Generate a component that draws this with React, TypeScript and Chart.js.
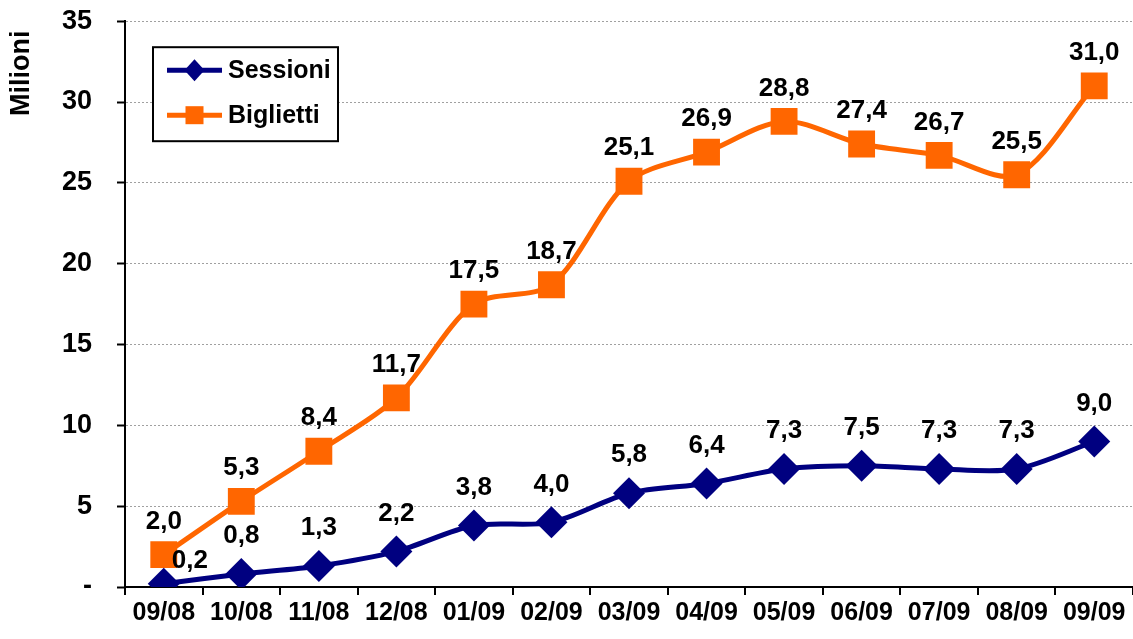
import React, { useEffect, useRef } from "react";
import { Chart, registerables } from "chart.js";

Chart.register(...registerables);

const categories = ["09/08", "10/08", "11/08", "12/08", "01/09", "02/09", "03/09", "04/09", "05/09", "06/09", "07/09", "08/09", "09/09"];
const sessioni = [0.2, 0.8, 1.3, 2.2, 3.8, 4.0, 5.8, 6.4, 7.3, 7.5, 7.3, 7.3, 9.0];
const biglietti = [2.0, 5.3, 8.4, 11.7, 17.5, 18.7, 25.1, 26.9, 28.8, 27.4, 26.7, 25.5, 31.0];
const yTicks = [0, 5, 10, 15, 20, 25, 30, 35];
const yTitle = "Milioni";

const NAVY = "#000080";
const ORANGE = "#FF6600";
const FONT = "'Liberation Sans', Arial, sans-serif";

const fmt = (v: number) => v.toFixed(1).replace(".", ",");

const labelPlugin = {
  id: "valueLabels",
  afterDatasetsDraw(chart: any) {
    const ctx = chart.ctx;
    ctx.save();
    ctx.font = `bold 26px ${FONT}`;
    ctx.fillStyle = "#000";
    ctx.textAlign = "center";
    ctx.textBaseline = "middle";
    chart.data.datasets.forEach((ds: any, di: number) => {
      const meta = chart.getDatasetMeta(di);
      meta.data.forEach((pt: any, i: number) => {
        let dx = 0;
        let dy = di === 0 ? -38 : -33;
        if (di === 0 && i === 0) {
          dx = 26;
          dy = -23;
        }
        ctx.fillText(fmt(ds.data[i]), pt.x + dx, pt.y + dy);
      });
    });
    ctx.restore();
  },
};

const legendPlugin = {
  id: "boxLegend",
  afterDraw(chart: any) {
    const ctx = chart.ctx;
    const top = chart.chartArea.top;
    const left = chart.chartArea.left;
    ctx.save();
    // axis title
    ctx.save();
    ctx.translate(22, top + 52);
    ctx.rotate(-Math.PI / 2);
    ctx.font = `bold 27px ${FONT}`;
    ctx.fillStyle = "#000";
    ctx.textAlign = "center";
    ctx.textBaseline = "middle";
    ctx.fillText(yTitle, 0, 0);
    ctx.restore();

    const bx = left + 28;
    const by = top + 26;
    ctx.fillStyle = "#fff";
    ctx.fillRect(bx, by, 185, 94);
    ctx.strokeStyle = "#000";
    ctx.lineWidth = 2;
    ctx.strokeRect(bx, by, 185, 94);
    const items = [
      { text: chart.data.datasets[0].label, color: NAVY, style: "diamond", y: by + 23 },
      { text: chart.data.datasets[1].label, color: ORANGE, style: "square", y: by + 68 },
    ];
    items.forEach((it) => {
      ctx.strokeStyle = it.color;
      ctx.lineWidth = 5;
      ctx.beginPath();
      ctx.moveTo(bx + 14, it.y);
      ctx.lineTo(bx + 69, it.y);
      ctx.stroke();
      ctx.fillStyle = it.color;
      const cx = bx + 41.5;
      if (it.style === "diamond") {
        ctx.beginPath();
        ctx.moveTo(cx - 10, it.y);
        ctx.lineTo(cx, it.y - 11);
        ctx.lineTo(cx + 10, it.y);
        ctx.lineTo(cx, it.y + 11);
        ctx.closePath();
        ctx.fill();
      } else {
        ctx.fillRect(cx - 9, it.y - 9, 18, 18);
      }
      ctx.fillStyle = "#000";
      ctx.font = `bold 25px ${FONT}`;
      ctx.textAlign = "left";
      ctx.textBaseline = "middle";
      ctx.fillText(it.text, bx + 75, it.y + 1);
    });
    ctx.restore();
  },
};

export default function App() {
  const ref = useRef<HTMLCanvasElement | null>(null);

  useEffect(() => {
    if (!ref.current) return;
    const chart = new Chart(ref.current, {
      type: "line",
      data: {
        labels: categories,
        datasets: [
          {
            label: "Sessioni",
            data: sessioni,
            borderColor: NAVY,
            backgroundColor: NAVY,
            borderWidth: 5,
            pointStyle: "rectRot",
            pointRadius: 16,
            pointHoverRadius: 16,
            pointBorderWidth: 0,
            tension: 0.3,
          },
          {
            label: "Biglietti",
            data: biglietti,
            borderColor: ORANGE,
            backgroundColor: ORANGE,
            borderWidth: 5,
            pointStyle: "rect",
            pointRadius: 19,
            pointHoverRadius: 19,
            pointBorderWidth: 0,
            tension: 0.3,
          },
        ],
      },
      options: {
        responsive: false,
        animation: false,
        devicePixelRatio: 1,
        layout: { autoPadding: false, padding: { top: 0, right: 0, left: 0, bottom: 0 } },
        plugins: {
          legend: { display: false },
          title: { display: false },
          tooltip: { enabled: false },
        },
        scales: {
          x: {
            offset: true,
            grid: {
              offset: true,
              drawOnChartArea: false,
              drawTicks: true,
              tickLength: 8,
              tickColor: "#000",
              lineWidth: 2,
            },
            border: { color: "#000", width: 2 },
            ticks: {
              color: "#000",
              font: { family: FONT, size: 25, weight: "bold" },
              padding: 3,
              maxRotation: 0,
              autoSkip: false,
            },
            afterFit(scale: any) {
              scale.height = 52;
            },
          },
          y: {
            min: 0,
            max: 35,
            afterBuildTicks(scale: any) {
              scale.ticks = yTicks.map((v) => ({ value: v }));
            },
            grid: {
              color: "#a0a0a0",
              lineWidth: 1,
              tickLength: 8,
              tickColor: "#000",
              tickWidth: 2,
            },
            border: { color: "#000", width: 2, dash: [2, 2] },
            ticks: {
              color: "#000",
              font: { family: FONT, size: 27, weight: "bold" },
              padding: 25,
              callback: (v: any) => (Number(v) === 0 ? "-" : String(v)),
            },
            title: { display: false },
            afterFit(scale: any) {
              scale.width = 125;
            },
          },
        },
      },
      plugins: [labelPlugin, legendPlugin],
    } as any);
    return () => chart.destroy();
  }, []);

  return (
    <div style={{ position: "absolute", left: 0, top: 0, width: 1133, height: 639, overflow: "hidden", background: "#fff" }}>
      <canvas ref={ref} width={1133} height={659} style={{ position: "absolute", left: 0, top: -20 }} />
    </div>
  );
}
